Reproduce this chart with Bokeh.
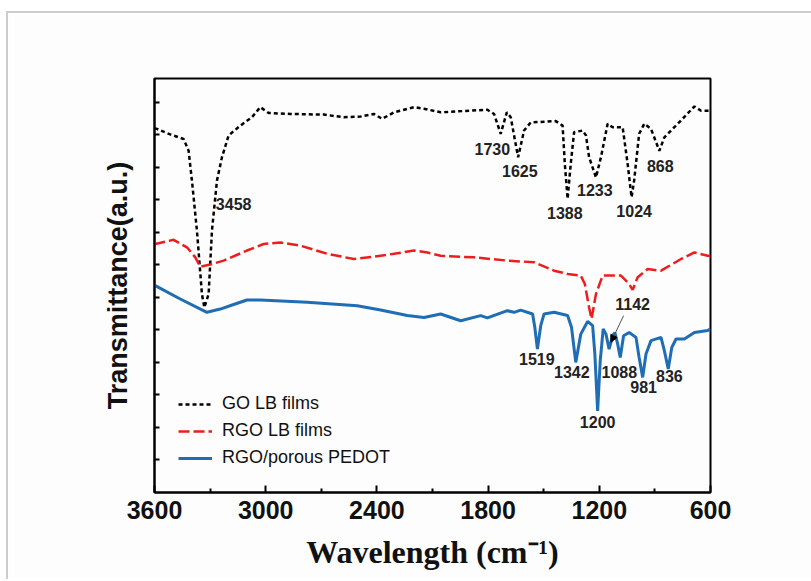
from bokeh.plotting import figure
from bokeh.models import (Range1d, FixedTicker, Legend, LegendItem, Arrow, NormalHead,
                          ColumnDataSource)
from bokeh.core.properties import value
from bokeh.embed import file_html
from bokeh.resources import INLINE

# ---------------- data ----------------
go_wn = [3600, 3587, 3515, 3443, 3416, 3398, 3371, 3344, 3331, 3308, 3290, 3263, 3236, 3200, 3137,
         3074, 3029, 2984, 2867, 2687, 2579, 2488, 2417, 2371, 2308, 2200, 2146, 2056, 1804, 1768,
         1732, 1699, 1678, 1638, 1606, 1570, 1435, 1398, 1386, 1371, 1354, 1336, 1290, 1272, 1255,
         1218, 1191, 1155, 1128, 1074, 1047, 1026, 1012, 985, 957, 921, 876, 849, 759, 687, 651, 600]
go_t = [11.20, 11.18, 11.01, 10.87, 10.51, 9.59, 8.05, 6.10, 5.69, 6.10, 8.05, 9.59, 10.31, 10.98, 11.28,
        11.54, 11.85, 11.67, 11.64, 11.62, 11.54, 11.56, 11.64, 11.49, 11.69, 11.85, 11.80, 11.69, 11.77, 11.64,
        11.03, 11.69, 11.54, 10.31, 11.13, 11.38, 11.42, 11.28, 10.10, 9.03, 10.11, 11.08, 11.13, 10.98, 10.31,
        9.69, 10.31, 11.34, 11.23, 11.23, 10.10, 9.08, 9.59, 11.03, 11.34, 11.18, 10.51, 10.92, 11.44, 11.87, 11.74, 11.74]

rgo_wn = [3600, 3596, 3497, 3425, 3380, 3353, 3299, 3227, 3101, 3011, 2921, 2813, 2668, 2525, 2417,
          2308, 2200, 2128, 2056, 1876, 1696, 1552, 1444, 1371, 1300, 1278, 1255, 1242, 1218, 1182,
          1083, 1039, 1020, 993, 939, 867, 759, 687, 615, 600]
rgo_t = [7.62, 7.64, 7.77, 7.54, 7.23, 6.94, 7.01, 7.13, 7.44, 7.64, 7.69, 7.59, 7.34, 7.18, 7.25,
         7.34, 7.44, 7.38, 7.28, 7.23, 7.13, 7.08, 6.82, 6.72, 6.67, 6.41, 5.69, 5.34, 6.10, 6.67,
         6.67, 6.41, 6.23, 6.62, 6.87, 6.82, 7.18, 7.38, 7.28, 7.28]

pedot_wn = [3600, 3596, 3461, 3317, 3245, 3173, 3101, 3029, 2776, 2506, 2380, 2236, 2146, 2056, 1948,
            1840, 1804, 1696, 1660, 1624, 1560, 1548, 1534, 1516, 1498, 1444, 1371, 1350, 1327, 1300,
            1263, 1236, 1224, 1209, 1195, 1179, 1164, 1147, 1128, 1116, 1101, 1087, 1069, 1039, 1002,
            985, 966, 948, 921, 867, 849, 828, 809, 786, 741, 687, 615, 600]
pedot_t = [6.38, 6.36, 5.95, 5.54, 5.64, 5.78, 5.92, 5.92, 5.85, 5.74, 5.61, 5.44, 5.38, 5.49, 5.28,
           5.44, 5.37, 5.59, 5.54, 5.61, 5.49, 5.08, 4.41, 5.13, 5.49, 5.54, 5.44, 5.08, 4.00, 4.87,
           5.26, 5.13, 4.26, 2.51, 4.05, 5.03, 4.87, 4.41, 4.82, 4.92, 4.57, 4.15, 4.82, 4.92, 4.77,
           4.15, 3.54, 4.26, 4.67, 4.77, 4.36, 3.80, 4.46, 4.72, 4.72, 4.92, 4.98, 5.03]

peak_labels = ["3458", "1730", "1625", "1388", "1233", "1024", "868",
               "1142", "1519", "1342", "1088", "1200", "981", "836"]
peak_x = [3173, 1777, 1629, 1386, 1224, 1012, 871,
          1020, 1537, 1348, 1092, 1209, 961, 822]
peak_y = [8.87, 10.57, 9.88, 8.58, 9.30, 8.65, 10.05,
          5.81, 4.10, 3.69, 3.72, 2.18, 3.23, 3.59]

x_major = [3600, 3000, 2400, 1800, 1200, 600]
x_minor = [3300, 2700, 2100, 1500, 900]
y_ticks = [1, 2, 3, 4, 5, 6, 7, 8, 9, 10, 11, 12]

series_names = ["GO LB films", "RGO LB films", "RGO/porous PEDOT"]

# ---------------- figure ----------------
# page offset of the figure (gray frame at top/left)
OX, OY = 8, 13
p = figure(width=811 - OX + 2, height=581 - OY, output_backend="svg", toolbar_location=None,
           x_range=Range1d(3600, 600), y_range=Range1d(0, 12.73),
           min_border_left=154 - OX, min_border_right=811 - OX + 2 - (710 - OX),
           min_border_top=78 - OY, min_border_bottom=581 - 492)
p.margin = (OY - 2, 0, 0, OX - 2)
p.styles = {"border-top": "2px solid #cccccc", "border-left": "2px solid #cccccc"}
p.background_fill_color = "#fdfdfd"
p.border_fill_color = "#fdfdfd"
p.xgrid.visible = False
p.ygrid.visible = False
p.outline_line_color = "black"
p.outline_line_width = 2
p.outline_line_alpha = 1

xa = p.xaxis[0]
xa.ticker = FixedTicker(ticks=x_major, minor_ticks=x_minor)
xa.major_tick_in = 7
xa.major_tick_out = 0
xa.minor_tick_in = 4
xa.minor_tick_out = 0
xa.axis_line_width = 2
xa.major_tick_line_width = 2
xa.minor_tick_line_width = 2
xa.major_label_text_font = "Liberation Sans"
xa.major_label_text_font_style = "bold"
xa.major_label_text_font_size = "25px"
xa.major_label_text_color = "#111111"
xa.major_label_standoff = 8
xa.axis_label = "Wavelength (cm\u207b\u00b9)"
xa.axis_label_text_font = "Liberation Serif"
xa.axis_label_text_font_style = "bold"
xa.axis_label_text_font_size = "32px"
xa.axis_label_text_color = "#111111"
xa.axis_label_standoff = 12

ya = p.yaxis[0]
ya.ticker = FixedTicker(ticks=y_ticks)
ya.major_tick_in = 5
ya.major_tick_out = 0
ya.minor_tick_in = 0
ya.minor_tick_out = 0
ya.axis_line_width = 2
ya.major_tick_line_width = 2
ya.major_label_text_font_size = "0px"
ya.major_label_text_color = None
ya.axis_label = "Transmittance(a.u.)"
ya.axis_label_text_font = "Liberation Sans"
ya.axis_label_text_font_style = "bold"
ya.axis_label_text_font_size = "27px"
ya.axis_label_text_color = "#111111"
ya.axis_label_standoff = 22

r_go = p.line(go_wn, go_t, line_color="black", line_width=2.5, line_dash="4 3")
r_rgo = p.line(rgo_wn, rgo_t, line_color="#ee1c1c", line_width=2.5, line_dash="11 4")
r_pedot = p.line(pedot_wn, pedot_t, line_color="#1f6db4", line_width=3)

src = ColumnDataSource(dict(x=peak_x, y=peak_y, t=peak_labels))
p.text(x="x", y="y", text="t", source=src, text_font=value("Liberation Sans"),
       text_font_style="bold", text_font_size="16px", text_color="#222222",
       text_align="center", text_baseline="middle")

p.add_layout(Arrow(end=NormalHead(size=7, fill_color="black", line_color="black"),
                   x_start=1069, y_start=5.44, x_end=1137, y_end=4.62,
                   line_color="#555555", line_width=1))

legend = Legend(items=[LegendItem(label=series_names[0], renderers=[r_go]),
                       LegendItem(label=series_names[1], renderers=[r_rgo]),
                       LegendItem(label=series_names[2], renderers=[r_pedot])],
                location=(24, 24), padding=0, margin=0, spacing=6,
                glyph_width=34, glyph_height=20, label_height=20, label_standoff=10,
                label_text_font="Liberation Sans", label_text_font_size="18px",
                label_text_color="#111111",
                border_line_color=None, background_fill_alpha=0)
p.add_layout(legend)

open("out.html", "w").write(file_html(p, INLINE))
